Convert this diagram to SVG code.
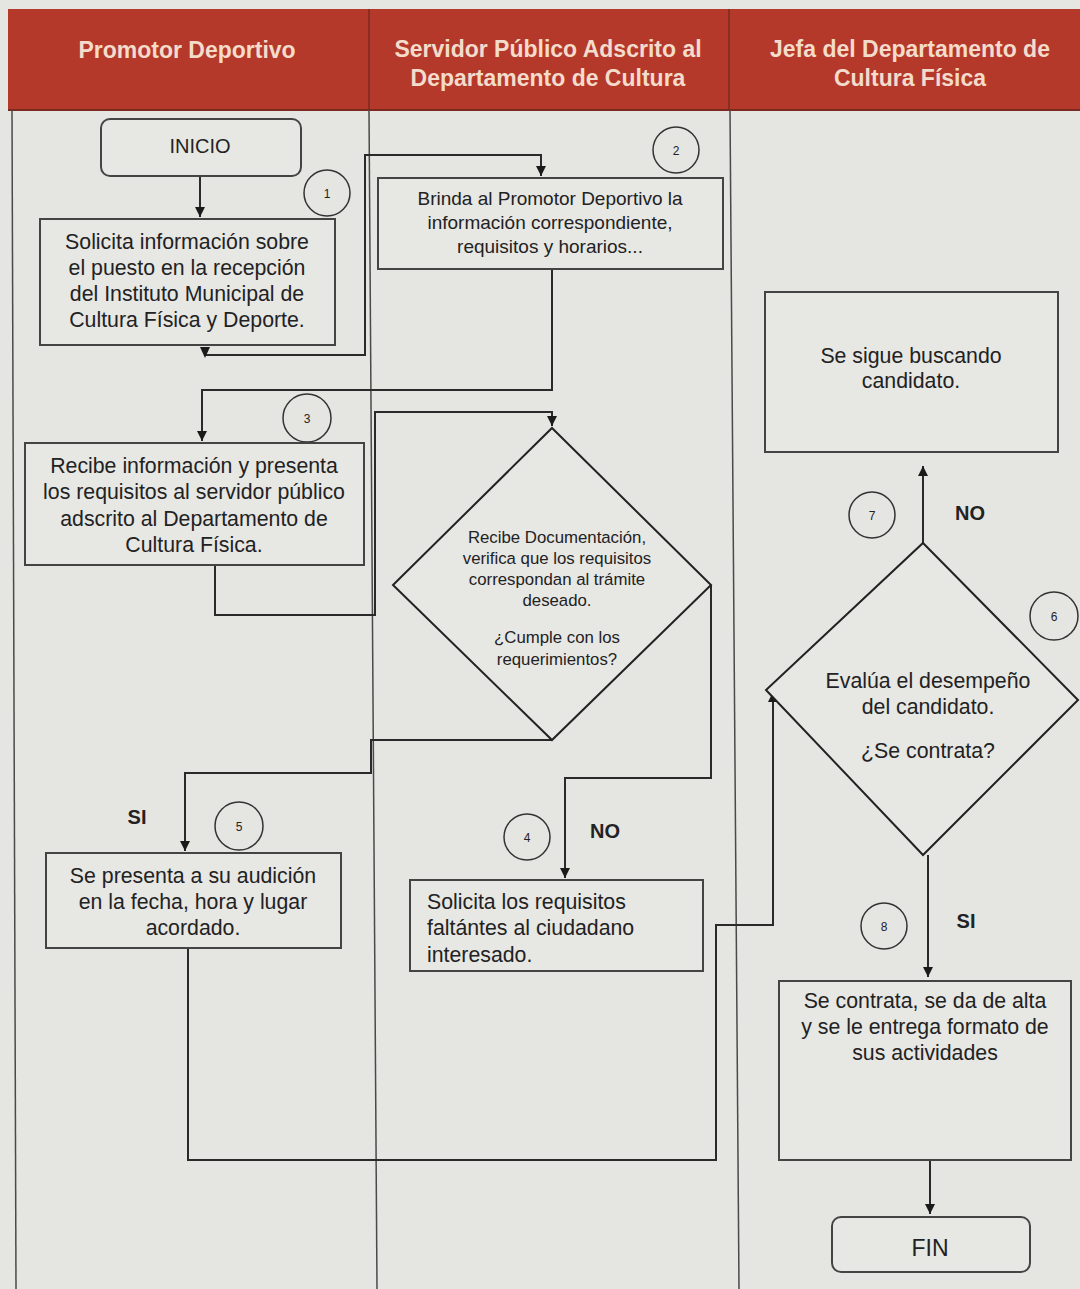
<svg xmlns="http://www.w3.org/2000/svg" width="1080" height="1289" viewBox="0 0 1080 1289">
<defs>
<style>
.bg{fill:#e5e5e2}
.lane{stroke:#4a4a4a;stroke-width:1.5;fill:none}
.box{fill:#e7e7e4;stroke:#444;stroke-width:2}
.dia{fill:#e7e7e4;stroke:#222;stroke-width:2}
.num{fill:none;stroke:#333;stroke-width:1.5}
.ln{fill:none;stroke:#2a2a2a;stroke-width:2}
.t{font-family:"Liberation Sans",Arial,sans-serif;fill:#222;text-anchor:middle}
.h{font-family:"Liberation Sans",Arial,sans-serif;font-weight:bold;font-size:23px;fill:#f3dccb;text-anchor:middle}
.n{font-family:"Liberation Sans",Arial,sans-serif;font-size:12px;fill:#222;text-anchor:middle}
.lbl{font-family:"Liberation Sans",Arial,sans-serif;font-weight:bold;font-size:20px;fill:#222;text-anchor:middle}
</style>
<marker id="ah" viewBox="0 0 10 10" refX="10" refY="5" markerWidth="6" markerHeight="5" orient="auto-start-reverse" markerUnits="strokeWidth">
<path d="M0,0 L10,5 L0,10 z" fill="#1a1a1a"/>
</marker>
</defs>
<rect class="bg" x="0" y="0" width="1080" height="1289"/>
<g id="header">
<rect x="8" y="9" width="1072" height="101" fill="#b5392a"/>
<line x1="8" y1="110" x2="1080" y2="110" stroke="#7a2a20" stroke-width="2"/>
<line x1="369" y1="9" x2="369" y2="110" stroke="#7a2a20" stroke-width="1.5"/>
<line x1="729" y1="9" x2="729" y2="110" stroke="#7a2a20" stroke-width="1.5"/>
<text class="h" x="187" y="58">Promotor Deportivo</text>
<text class="h" x="548" y="57">Servidor Público Adscrito al</text>
<text class="h" x="548" y="86">Departamento de Cultura</text>
<text class="h" x="910" y="57">Jefa del Departamento de</text>
<text class="h" x="910" y="86">Cultura Física</text>
</g>
<g id="lanes">
<line class="lane" x1="12" y1="110" x2="16" y2="1289"/>
<line class="lane" x1="369" y1="110" x2="377" y2="1289"/>
<line class="lane" x1="730" y1="110" x2="739" y2="1289"/>
</g>
<g id="connectors">
<line class="ln" x1="200" y1="177" x2="200" y2="217" marker-end="url(#ah)"/>
<path class="ln" d="M205,355 H365 V155 H541 V176" marker-end="url(#ah)"/>
<path d="M200,347 L210,347 L205,358 z" fill="#1a1a1a"/>
<path class="ln" d="M552,269 V390 H202 V441" marker-end="url(#ah)"/>
<path class="ln" d="M215,565 V615 H375 V412 H552 V426" marker-end="url(#ah)"/>
<path class="ln" d="M552,740 H371 V773 H185 V851" marker-end="url(#ah)"/>
<path class="ln" d="M711,585 V778 H565 V878" marker-end="url(#ah)"/>
<path class="ln" d="M188,948 V1160 H716 V925 H773 V692" marker-end="url(#ah)"/>
<line class="ln" x1="923" y1="543" x2="923" y2="466" marker-end="url(#ah)"/>
<line class="ln" x1="928" y1="855" x2="928" y2="977" marker-end="url(#ah)"/>
<line class="ln" x1="930" y1="1160" x2="930" y2="1214" marker-end="url(#ah)"/>
</g>
<g id="inicio">
<rect class="box" x="101" y="119" width="200" height="57" rx="9"/>
<text class="t" x="200" y="153" font-size="20">INICIO</text>
</g>
<g id="step1">
<circle class="num" cx="327" cy="193" r="23"/>
<text class="n" x="327" y="198">1</text>
<rect class="box" x="40" y="219" width="295" height="126"/>
<text class="t" font-size="21.3"><tspan x="187" y="249">Solicita información sobre</tspan><tspan x="187" y="275">el puesto en la recepción</tspan><tspan x="187" y="301">del Instituto Municipal de</tspan><tspan x="187" y="327">Cultura Física y Deporte.</tspan></text>
</g>
<g id="step2">
<circle class="num" cx="676" cy="150" r="23"/>
<text class="n" x="676" y="155">2</text>
<rect class="box" x="378" y="178" width="345" height="91"/>
<text class="t" font-size="19"><tspan x="550" y="205">Brinda al Promotor Deportivo la</tspan><tspan x="550" y="229">información correspondiente,</tspan><tspan x="550" y="253">requisitos y horarios...</tspan></text>
</g>
<g id="step3">
<circle class="num" cx="307" cy="418" r="24"/>
<text class="n" x="307" y="423">3</text>
<rect class="box" x="25" y="443" width="339" height="122"/>
<text class="t" font-size="21.3"><tspan x="194" y="473">Recibe información y presenta</tspan><tspan x="194" y="499">los requisitos al servidor público</tspan><tspan x="194" y="526">adscrito al Departamento de</tspan><tspan x="194" y="552">Cultura Física.</tspan></text>
</g>
<g id="decision1">
<polygon class="dia" points="552,428 711,585 552,740 393,585"/>
<text class="t" font-size="16.8"><tspan x="557" y="543">Recibe Documentación,</tspan><tspan x="557" y="564">verifica que los requisitos</tspan><tspan x="557" y="585">correspondan al trámite</tspan><tspan x="557" y="606">deseado.</tspan><tspan x="557" y="643">¿Cumple con los</tspan><tspan x="557" y="665">requerimientos?</tspan></text>
</g>
<g id="step4">
<circle class="num" cx="527" cy="837" r="23"/>
<text class="n" x="527" y="842">4</text>
<text class="lbl" x="605" y="838">NO</text>
<rect class="box" x="410" y="880" width="293" height="91"/>
<text class="t" font-size="21.3" style="text-anchor:start"><tspan x="427" y="909">Solicita los requisitos</tspan><tspan x="427" y="935">faltántes al ciudadano</tspan><tspan x="427" y="962">interesado.</tspan></text>
</g>
<g id="step5">
<text class="lbl" x="137" y="824">SI</text>
<circle class="num" cx="239" cy="826" r="24"/>
<text class="n" x="239" y="831">5</text>
<rect class="box" x="46" y="853" width="295" height="95"/>
<text class="t" font-size="21.3"><tspan x="193" y="883">Se presenta a su audición</tspan><tspan x="193" y="909">en la fecha, hora y lugar</tspan><tspan x="193" y="935">acordado.</tspan></text>
</g>
<g id="decision2">
<polygon class="dia" points="923,543 1078,700 923,855 766,690"/>
<circle class="num" cx="1054" cy="616" r="24"/>
<text class="n" x="1054" y="621">6</text>
<text class="t" font-size="21.3"><tspan x="928" y="688">Evalúa el desempeño</tspan><tspan x="928" y="714">del candidato.</tspan><tspan x="928" y="758">¿Se contrata?</tspan></text>
</g>
<g id="step7">
<circle class="num" cx="872" cy="515" r="23"/>
<text class="n" x="872" y="520">7</text>
<text class="lbl" x="970" y="520">NO</text>
<rect class="box" x="765" y="292" width="293" height="160"/>
<text class="t" font-size="21.3"><tspan x="911" y="363">Se sigue buscando</tspan><tspan x="911" y="388">candidato.</tspan></text>
</g>
<g id="step8">
<circle class="num" cx="884" cy="926" r="23"/>
<text class="n" x="884" y="931">8</text>
<text class="lbl" x="966" y="928">SI</text>
<rect class="box" x="779" y="981" width="292" height="179"/>
<text class="t" font-size="21.3"><tspan x="925" y="1008">Se contrata, se da de alta</tspan><tspan x="925" y="1034">y se le entrega formato de</tspan><tspan x="925" y="1060">sus actividades</tspan></text>
</g>
<g id="fin">
<rect class="box" x="832" y="1217" width="198" height="55" rx="9"/>
<text class="t" x="930" y="1256" font-size="23">FIN</text>
</g>
</svg>
